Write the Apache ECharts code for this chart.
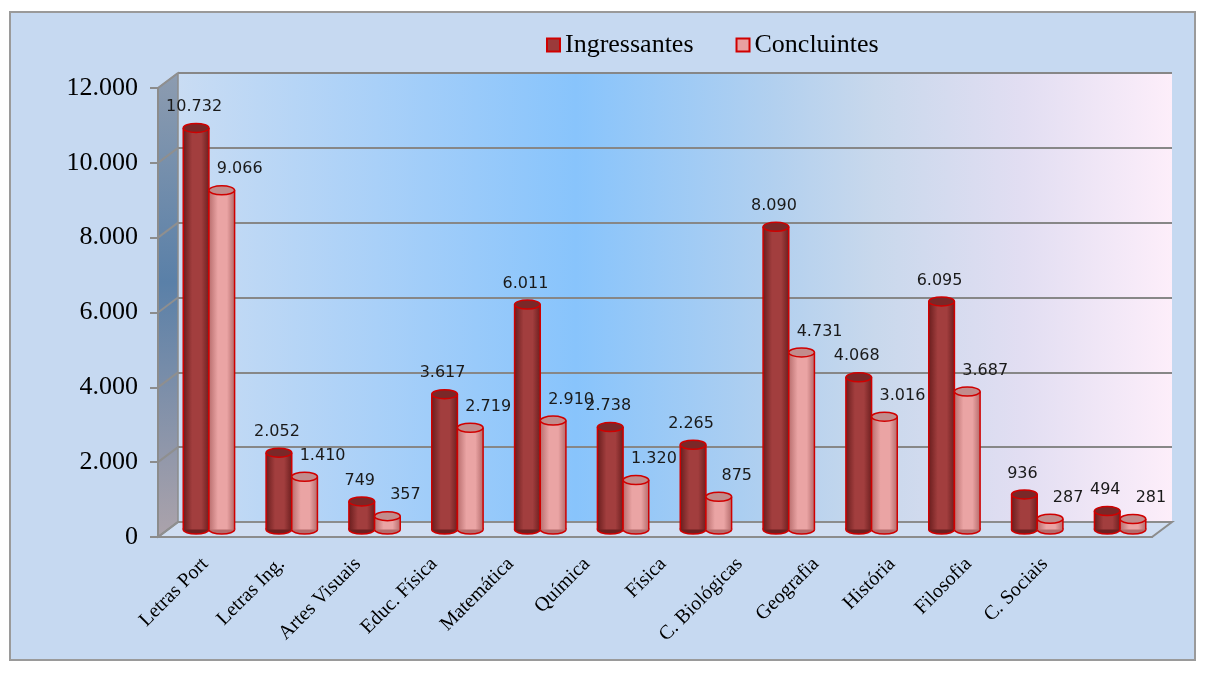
<!DOCTYPE html>
<html lang="pt-BR" style="height: 100%">
<head>
    <meta charset="UTF-8">
    <title>Ingressantes e Concluintes por curso</title>
    <script src="https://cdn.jsdelivr.net/npm/echarts@6/dist/echarts.min.js"></script>
</head>
<body style="height: 100%; margin: 0">
<div id="main" style="width: 1205px; height: 673px"></div>
<script>
    var cursos = ['Letras Port', 'Letras Ing.', 'Artes Visuais', 'Educ. Física', 'Matemática', 'Química',
        'Física', 'C. Biológicas', 'Geografia', 'História', 'Filosofia', 'C. Sociais'];
    var ingressantes = [10732, 2052, 749, 3617, 6011, 2738, 2265, 8090, 4068, 6095, 936, 494];
    var concluintes = [9066, 1410, 357, 2719, 2910, 1320, 875, 4731, 3016, 3687, 287, 281];
    var yMin = 0, yMax = 12000, yPasso = 2000;

    // profundidade do "3D"
    var DX = 20, DY = 15;
    var W = 1205, H = 673;
    var G = {left: 158, right: 53, top: 88, bottom: 136};

    function fmt(v) {
        return String(v).replace(/\B(?=(\d{3})+(?!\d))/g, '.');
    }

    function cilindro(lado, cores, dxLabel) {
        return function (params, api) {
            var i = api.value(0), v = api.value(1);
            var base = api.coord([i, 0]), topo = api.coord([i, v]);
            var larg = api.size([1, 0])[0] * 0.31;
            var cx = base[0] + DX / 2 + lado * larg / 2 - 0.5;
            var yb = base[1] - DY / 2, yt = topo[1] - DY / 2;
            var rx = larg / 2, ry = 4.5;
            var corpo = new echarts.graphic.LinearGradient(0, 0, 1, 0, [
                {offset: 0, color: cores[0]}, {offset: 0.35, color: cores[1]},
                {offset: 0.7, color: cores[1]}, {offset: 1, color: cores[2]}
            ]);
            return {
                type: 'group',
                children: [
                    {type: 'ellipse', shape: {cx: cx, cy: yb, rx: rx, ry: ry},
                        style: {fill: cores[2], stroke: '#d00000', lineWidth: 1.5}},
                    {type: 'rect', shape: {x: cx - rx, y: yt, width: larg, height: yb - yt},
                        style: {fill: corpo}},
                    {type: 'line', shape: {x1: cx - rx, y1: yt, x2: cx - rx, y2: yb},
                        style: {stroke: '#d00000', lineWidth: 1.5}},
                    {type: 'line', shape: {x1: cx + rx, y1: yt, x2: cx + rx, y2: yb},
                        style: {stroke: '#d00000', lineWidth: 1.5}},
                    {type: 'ellipse', shape: {cx: cx, cy: yt, rx: rx, ry: ry},
                        style: {fill: cores[3], stroke: '#d00000', lineWidth: 1.5}},
                    {type: 'text', x: cx + dxLabel, y: yt - 21,
                        style: {text: fmt(v), fill: '#1a1a1a', font: '16px "DejaVu Sans"',
                            align: 'center', verticalAlign: 'middle'}}
                ]
            };
        };
    }

    var fundo = new echarts.graphic.LinearGradient(0, 0, 1, 0, [
        {offset: 0, color: '#c9dcf3'},
        {offset: 0.2, color: '#a9d0f8'},
        {offset: 0.4, color: '#88c4fc'},
        {offset: 0.6, color: '#b2d0ef'},
        {offset: 0.7, color: '#c8d8ec'},
        {offset: 0.85, color: '#e2def2'},
        {offset: 1, color: '#fdeefa'}
    ]);

    var myChart = echarts.init(document.getElementById('main'));
    var myoption = {
        backgroundColor: '#ffffff',
        animation: false,
        legend: {
            top: 27,
            left: 541,
            itemWidth: 13,
            itemHeight: 13,
            itemGap: 42,
            icon: 'rect',
            textStyle: {fontFamily: 'Liberation Serif', fontSize: 26, color: '#000'},
            data: [
                {name: 'Ingressantes', itemStyle: {color: '#9b3a3a', borderColor: '#d00000', borderWidth: 2}},
                {name: 'Concluintes', itemStyle: {color: '#e8a0a0', borderColor: '#d00000', borderWidth: 2}}
            ]
        },
        grid: [
            {left: G.left, right: G.right, top: G.top, bottom: G.bottom},
            {left: G.left + DX, right: G.right - DX, top: G.top - DY, bottom: G.bottom + DY,
                show: true, backgroundColor: fundo, borderWidth: 0},
            // rótulos das categorias (projeção um pouco mais estreita, como no original)
            {left: 167, right: 122, top: G.top, bottom: G.bottom}
        ],
        xAxis: [
            {
                type: 'category', gridIndex: 0, data: cursos, z: 3,
                axisLine: {lineStyle: {color: '#8c8c8c', width: 2}},
                axisTick: {length: 8, lineStyle: {color: '#8c8c8c', width: 2}},
                axisLabel: {show: false}
            },
            {type: 'category', gridIndex: 1, data: cursos, show: false},
            {
                type: 'category', gridIndex: 2, data: cursos,
                axisLine: {show: false}, axisTick: {show: false},
                axisLabel: {rotate: 45, margin: 24, color: '#000', fontFamily: 'Liberation Serif', fontSize: 20}
            }
        ],
        yAxis: [
            {
                type: 'value', gridIndex: 0, min: yMin, max: yMax, interval: yPasso, z: 3,
                axisLine: {show: true, lineStyle: {color: '#8c8c8c', width: 2}},
                axisTick: {show: true, length: 8, lineStyle: {color: '#8c8c8c', width: 2}},
                splitLine: {show: false},
                axisLabel: {margin: 20, color: '#000', fontFamily: 'Liberation Serif', fontSize: 26, formatter: fmt}
            },
            {
                type: 'value', gridIndex: 1, min: yMin, max: yMax, interval: yPasso,
                axisLine: {show: false}, axisTick: {show: false}, axisLabel: {show: false},
                splitLine: {lineStyle: {color: '#878787', width: 2}}
            },
            {type: 'value', gridIndex: 2, min: yMin, max: yMax, show: false}
        ],
        series: [
            {
                name: 'Ingressantes', type: 'custom', xAxisIndex: 0, yAxisIndex: 0, z: 5,
                itemStyle: {color: '#9b3a3a', borderColor: '#d00000', borderWidth: 2},
                renderItem: cilindro(-1, ['#6a1e1e', '#a23e3e', '#6e2020', '#7a2828'], -2),
                data: ingressantes.map(function (v, i) { return [i, v]; })
            },
            {
                name: 'Concluintes', type: 'custom', xAxisIndex: 0, yAxisIndex: 0, z: 6,
                itemStyle: {color: '#e8a0a0', borderColor: '#d00000', borderWidth: 2},
                renderItem: cilindro(1, ['#b86e6e', '#eaa4a4', '#b56c6c', '#c28c8c'], 18),
                data: concluintes.map(function (v, i) { return [i, v]; })
            }
        ],
        graphic: [
            {type: 'rect', z: -10, shape: {x: 10, y: 12, width: W - 20, height: H - 25},
                style: {fill: '#c6d9f1', stroke: '#9a9a9a', lineWidth: 2}}
        ]
    };
    myChart.setOption(myoption);

    // paredes laterais e piso a partir da escala do eixo
    var yTopo = myChart.convertToPixel({yAxisIndex: 0}, yMax);
    var yZero = myChart.convertToPixel({yAxisIndex: 0}, yMin);
    var L = G.left, R = W - G.right;
    var extras = [
        {type: 'polygon', z: 1,
            shape: {points: [[L, yTopo], [L + DX, yTopo - DY], [L + DX, yZero - DY], [L, yZero]]},
            style: {fill: new echarts.graphic.LinearGradient(0, 0, 0, 1, [
                {offset: 0, color: '#8d9cb0'}, {offset: 0.45, color: '#5a80a8'}, {offset: 1, color: '#aca3ab'}
            ]), stroke: '#8c8c8c', lineWidth: 1.5}},
        {type: 'polygon', z: 1,
            shape: {points: [[L, yZero], [L + DX, yZero - DY], [R + DX, yZero - DY], [R, yZero]]},
            style: {fill: '#d0def2', stroke: '#8c8c8c', lineWidth: 2}}
    ];
    for (var v = yMin; v <= yMax; v += yPasso) {
        var y = myChart.convertToPixel({yAxisIndex: 0}, v);
        extras.push({type: 'line', z: 1, shape: {x1: L, y1: y, x2: L + DX, y2: y - DY},
            style: {stroke: '#8f8f8f', lineWidth: 2}});
    }
    myChart.setOption({graphic: myoption.graphic.concat(extras)});
</script>
</body>
</html>
